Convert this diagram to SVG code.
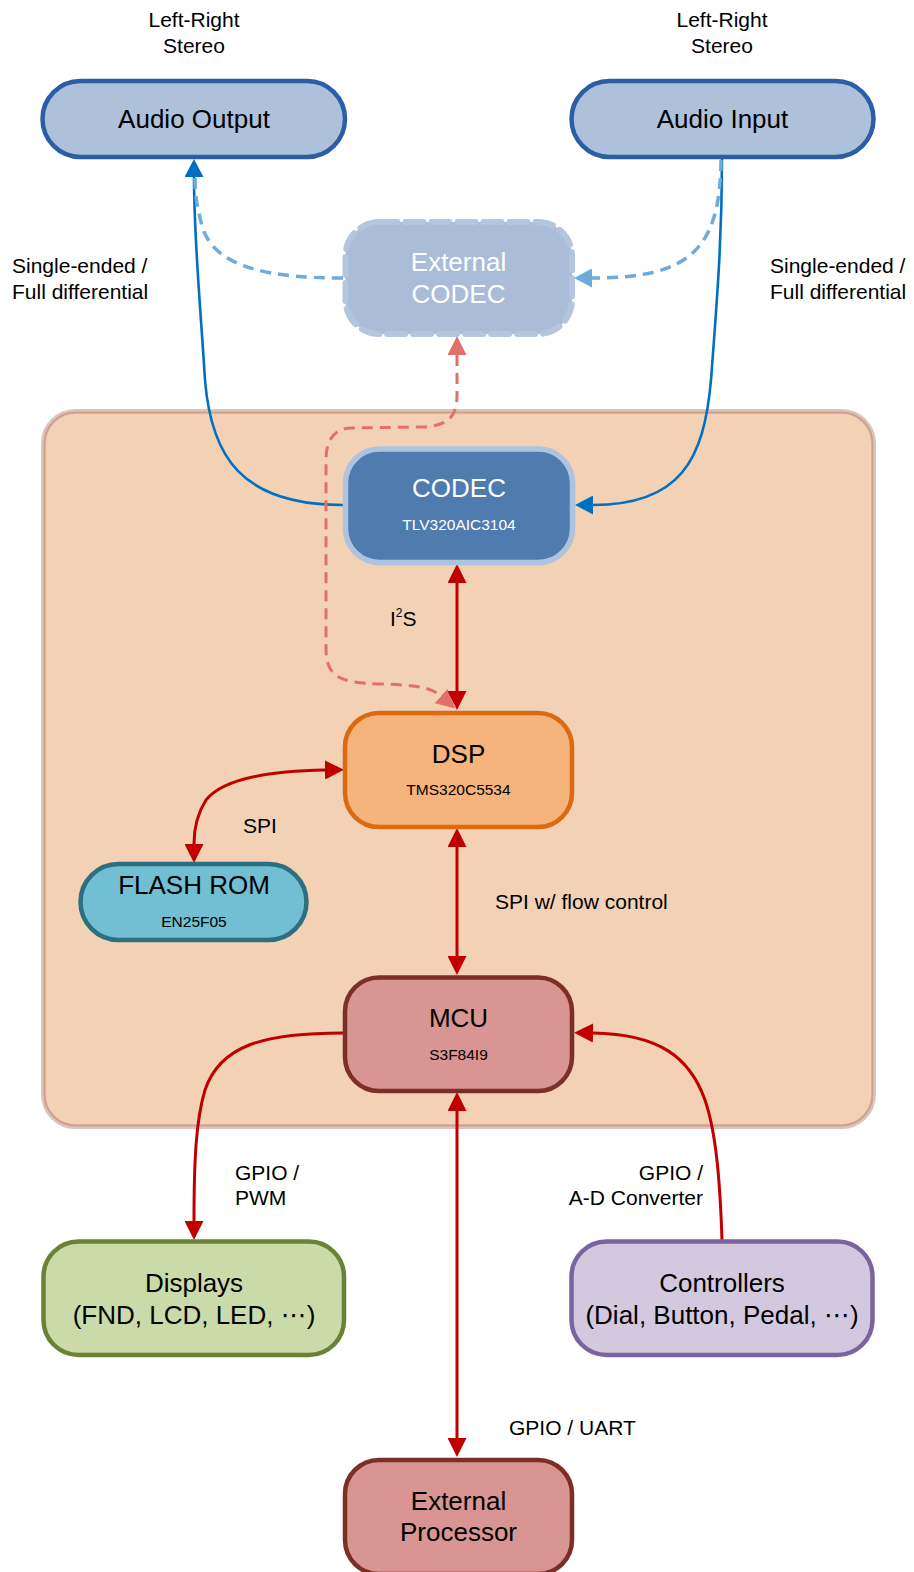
<svg xmlns="http://www.w3.org/2000/svg" width="914" height="1572" viewBox="0 0 914 1572">
  <style>
    text { font-family: "Liberation Sans", Arial, "DejaVu Sans", sans-serif; fill: #000; }
    .main { font-size: 26px; text-anchor: middle; }
    .sub { font-size: 15.5px; text-anchor: middle; }
    .lbl { font-size: 21px; }
    .mid { text-anchor: middle; }
    .end { text-anchor: end; }
    .white { fill: #fff; }
    .blue { fill: none; stroke: #0070c0; stroke-width: 2.6; }
    .blue-dash { fill: none; stroke: #6eaadb; stroke-width: 3.5; stroke-dasharray: 11 7; }
    .red { fill: none; stroke: #c00000; stroke-width: 3; }
    .red-dash { fill: none; stroke: #e0716a; stroke-width: 3; stroke-dasharray: 11 7; }
  </style>
  <defs>
    <marker id="ah-blue" viewBox="0 0 18 19" refX="0" refY="9.5" markerWidth="18" markerHeight="19" markerUnits="userSpaceOnUse" orient="auto-start-reverse">
      <path d="M0,0 L18,9.5 L0,19 z" fill="#0070c0"/>
    </marker>
    <marker id="ah-blue-light" viewBox="0 0 18 19" refX="0" refY="9.5" markerWidth="18" markerHeight="19" markerUnits="userSpaceOnUse" orient="auto-start-reverse">
      <path d="M0,0 L18,9.5 L0,19 z" fill="#6eaadb"/>
    </marker>
    <marker id="ah-red" viewBox="0 0 19 19" refX="0" refY="9.5" markerWidth="19" markerHeight="19" markerUnits="userSpaceOnUse" orient="auto-start-reverse">
      <path d="M0,0 L19,9.5 L0,19 z" fill="#c00000"/>
    </marker>
    <marker id="ah-red-light" viewBox="0 0 19 19" refX="0" refY="9.5" markerWidth="19" markerHeight="19" markerUnits="userSpaceOnUse" orient="auto-start-reverse">
      <path d="M0,0 L19,9.5 L0,19 z" fill="#e0716a"/>
    </marker>
  </defs>

  <rect width="914" height="1572" fill="#fff"/>

  <!-- board cluster -->
  <g id="cluster-board">
    <rect x="43.5" y="411.5" width="830" height="715" rx="32" fill="#f2d1b5" stroke="#dcc4c0" stroke-width="5"/>
    <rect x="44.5" y="412.5" width="828" height="713" rx="31" fill="none" stroke="#d0a089" stroke-width="2"/>
  </g>

  <!-- connectors -->
  <g id="connectors">
    <!-- CODEC -> Audio Output -->
    <path class="blue" d="M343,505 C 240,505 211,455 205,380 C 200,300 194,240 194,177" marker-end="url(#ah-blue)"/>
    <!-- Audio Input -> CODEC -->
    <path class="blue" d="M722,158 C 722,240 717,300 711,380 C 704,460 680,505 593,505" marker-end="url(#ah-blue)"/>
    <!-- External CODEC -> Audio Output -->
    <path class="blue-dash" d="M343,278 C 270,278 214,268 202,226 C 197,206 195,196 195,178"/>
    <!-- Audio Input -> External CODEC -->
    <path class="blue-dash" d="M721,160 C 720,250 690,278 592,278" marker-end="url(#ah-blue-light)"/>
    <!-- DSP <-> External CODEC -->
    <path class="red-dash" d="M457,355 L457,395 C 457,418 447,426 422,427 L352,428 C 334,428 326,440 326,460 L326,648 C 326,676 338,683 380,684 C 418,685 432,688 441,696" marker-start="url(#ah-red-light)" marker-end="url(#ah-red-light)"/>
    <!-- CODEC <-> DSP (I2S) -->
    <path class="red" d="M457,583 L457,691" marker-start="url(#ah-red)" marker-end="url(#ah-red)"/>
    <!-- DSP <-> FLASH ROM (SPI) -->
    <path class="red" d="M325,770 C 262,771 222,780 206,800 C 197,814 194,828 194,844" marker-start="url(#ah-red)" marker-end="url(#ah-red)"/>
    <!-- DSP <-> MCU -->
    <path class="red" d="M457,847 L457,956" marker-start="url(#ah-red)" marker-end="url(#ah-red)"/>
    <!-- MCU -> Displays -->
    <path class="red" d="M343,1033 C 262,1033 220,1046 205,1090 C 196,1120 194,1160 194,1221" marker-end="url(#ah-red)"/>
    <!-- Controllers -> MCU -->
    <path class="red" d="M722,1240 C 720,1180 716,1132 705,1100 C 690,1058 660,1034 593,1033" marker-end="url(#ah-red)"/>
    <!-- MCU <-> External Processor -->
    <path class="red" d="M457,1111 L457,1438" marker-start="url(#ah-red)" marker-end="url(#ah-red)"/>
  </g>

  <!-- connector labels -->
  <g id="labels">
    <text class="lbl mid" x="194" y="27">Left-Right</text>
    <text class="lbl mid" x="194" y="53">Stereo</text>
    <text class="lbl mid" x="722" y="27">Left-Right</text>
    <text class="lbl mid" x="722" y="53">Stereo</text>
    <text class="lbl" x="12" y="273">Single-ended /</text>
    <text class="lbl" x="12" y="299">Full differential</text>
    <text class="lbl" x="770" y="273">Single-ended /</text>
    <text class="lbl" x="770" y="299">Full differential</text>
    <text class="lbl" x="390" y="626">I<tspan font-size="12" dy="-9">2</tspan><tspan dy="9">S</tspan></text>
    <text class="lbl" x="243" y="833">SPI</text>
    <text class="lbl" x="495" y="909">SPI w/ flow control</text>
    <text class="lbl" x="235" y="1180">GPIO /</text>
    <text class="lbl" x="235" y="1205">PWM</text>
    <text class="lbl end" x="703" y="1180">GPIO /</text>
    <text class="lbl end" x="703" y="1205">A-D Converter</text>
    <text class="lbl" x="509" y="1435">GPIO / UART</text>
  </g>

  <!-- nodes -->
  <g id="audio-output">
    <rect x="42.5" y="81" width="302.5" height="76" rx="38" fill="#aec1da" stroke="#2b5ea7" stroke-width="4.5"/>
    <text class="main" x="194" y="128">Audio Output</text>
  </g>
  <g id="audio-input">
    <rect x="571.5" y="81" width="302" height="76" rx="38" fill="#aec1da" stroke="#2b5ea7" stroke-width="4.5"/>
    <text class="main" x="722.5" y="128">Audio Input</text>
  </g>
  <g id="external-codec">
    <rect x="345.5" y="222" width="226.5" height="112" rx="34" fill="#a9bdd8" stroke="#b4c6de" stroke-width="6" stroke-dasharray="18 8" stroke-linecap="round"/>
    <text class="main white" x="458.5" y="271">External</text>
    <text class="main white" x="458.5" y="302.5">CODEC</text>
  </g>
  <g id="codec">
    <rect x="345.5" y="449" width="227" height="113.5" rx="34" fill="#4f7bae" stroke="#aec3dd" stroke-width="5.5"/>
    <text class="main white" x="459" y="497">CODEC</text>
    <text class="sub white" x="459" y="529.5">TLV320AIC3104</text>
  </g>
  <g id="dsp">
    <rect x="345" y="713" width="227" height="114" rx="34" fill="#f6b37b" stroke="#dc6a12" stroke-width="4.5"/>
    <text class="main" x="458.5" y="762.5">DSP</text>
    <text class="sub" x="458.5" y="795">TMS320C5534</text>
  </g>
  <g id="flash-rom">
    <rect x="80.5" y="864" width="226" height="76" rx="38" fill="#72bed3" stroke="#2c6f80" stroke-width="4.5"/>
    <text class="main" x="194" y="894">FLASH ROM</text>
    <text class="sub" x="194" y="926.5">EN25F05</text>
  </g>
  <g id="mcu">
    <rect x="345" y="977.5" width="227" height="113.5" rx="34" fill="#d99591" stroke="#7b2f27" stroke-width="4.5"/>
    <text class="main" x="458.5" y="1026.5">MCU</text>
    <text class="sub" x="458.5" y="1060">S3F84I9</text>
  </g>
  <g id="displays">
    <rect x="43.5" y="1241.5" width="300.5" height="113.5" rx="35" fill="#cbdaa9" stroke="#6a8235" stroke-width="4.5"/>
    <text class="main" x="194" y="1291.5">Displays</text>
    <text class="main" x="194" y="1324">(FND, LCD, LED, ⋯)</text>
  </g>
  <g id="controllers">
    <rect x="571.5" y="1241.5" width="301" height="113.5" rx="35" fill="#d2c9df" stroke="#7b63a0" stroke-width="4.5"/>
    <text class="main" x="722" y="1291.5">Controllers</text>
    <text class="main" x="722" y="1324">(Dial, Button, Pedal, ⋯)</text>
  </g>
  <g id="external-processor">
    <rect x="345" y="1460" width="227" height="114" rx="34" fill="#d99591" stroke="#7b2f27" stroke-width="4.5"/>
    <text class="main" x="458.5" y="1509.5">External</text>
    <text class="main" x="458.5" y="1541">Processor</text>
  </g>
</svg>
